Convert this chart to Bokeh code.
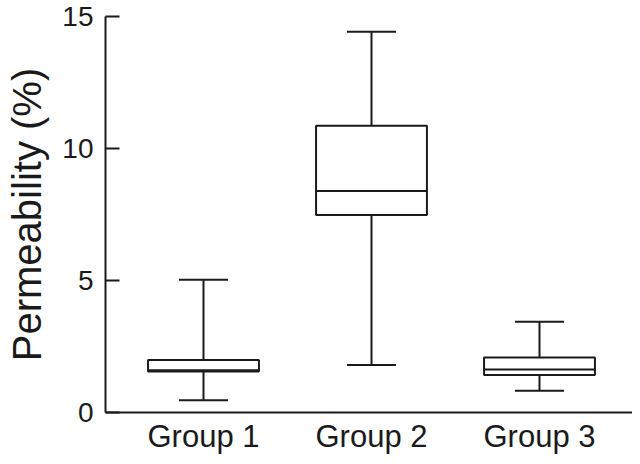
from bokeh.plotting import figure
from bokeh.models import FixedTicker, Range1d
from bokeh.embed import file_html
from bokeh.resources import INLINE

groups = ["Group 1", "Group 2", "Group 3"]
positions = [1, 2, 3]
whisker_low = [0.46, 1.80, 0.82]
q1 = [1.55, 7.48, 1.42]
median = [1.60, 8.39, 1.63]
q3 = [1.99, 10.86, 2.08]
whisker_high = [5.03, 14.42, 3.44]

y_ticks = [0, 5, 10, 15]

box_half = 0.33
cap_half = 0.146
ink = "#1a1a1a"
font = "Liberation Sans"

p = figure(width=632, height=456, output_backend="svg", toolbar_location=None,
           x_range=Range1d(0.4167, 3.5536), y_range=Range1d(0, 15),
           min_border_left=105, min_border_right=0, min_border_top=16,
           min_border_bottom=42)
p.outline_line_color = None
p.grid.visible = False
p.background_fill_color = "white"
p.border_fill_color = "white"

# whiskers
p.segment(x0=positions, y0=q3, x1=positions, y1=whisker_high, line_color=ink, line_width=2)
p.segment(x0=positions, y0=whisker_low, x1=positions, y1=q1, line_color=ink, line_width=2)
# caps
p.segment(x0=[x - cap_half for x in positions], y0=whisker_high,
          x1=[x + cap_half for x in positions], y1=whisker_high, line_color=ink, line_width=2)
p.segment(x0=[x - cap_half for x in positions], y0=whisker_low,
          x1=[x + cap_half for x in positions], y1=whisker_low, line_color=ink, line_width=2)
# boxes
p.quad(left=[x - box_half for x in positions], right=[x + box_half for x in positions],
       bottom=q1, top=q3, fill_color="white", line_color=ink, line_width=2)
# medians
p.segment(x0=[x - box_half for x in positions], y0=median,
          x1=[x + box_half for x in positions], y1=median, line_color=ink, line_width=2)

# y axis
ya = p.yaxis[0]
ya.ticker = FixedTicker(ticks=y_ticks)
ya.minor_tick_line_color = None
ya.major_tick_in = 14
ya.major_tick_out = 0
ya.major_tick_line_width = 2
ya.major_tick_line_color = ink
ya.axis_line_width = 2
ya.axis_line_color = ink
ya.major_label_text_font = font
ya.major_label_text_font_size = "28px"
ya.major_label_text_color = ink
ya.major_label_standoff = 12
ya.axis_label = "Permeability (%)"
ya.axis_label_text_font = font
ya.axis_label_text_font_size = "40px"
ya.axis_label_text_font_style = "normal"
ya.axis_label_text_color = ink
ya.axis_label_standoff = 10

# x axis
xa = p.xaxis[0]
xa.ticker = FixedTicker(ticks=positions)
xa.major_label_overrides = {pos: g for pos, g in zip(positions, groups)}
xa.minor_tick_line_color = None
xa.major_tick_line_color = None
xa.major_tick_in = 0
xa.major_tick_out = 0
xa.axis_line_width = 2
xa.axis_line_color = ink
xa.major_label_text_font = font
xa.major_label_text_font_size = "31px"
xa.major_label_text_color = ink
xa.major_label_standoff = 6

open("out.html", "w").write(file_html(p, INLINE))
